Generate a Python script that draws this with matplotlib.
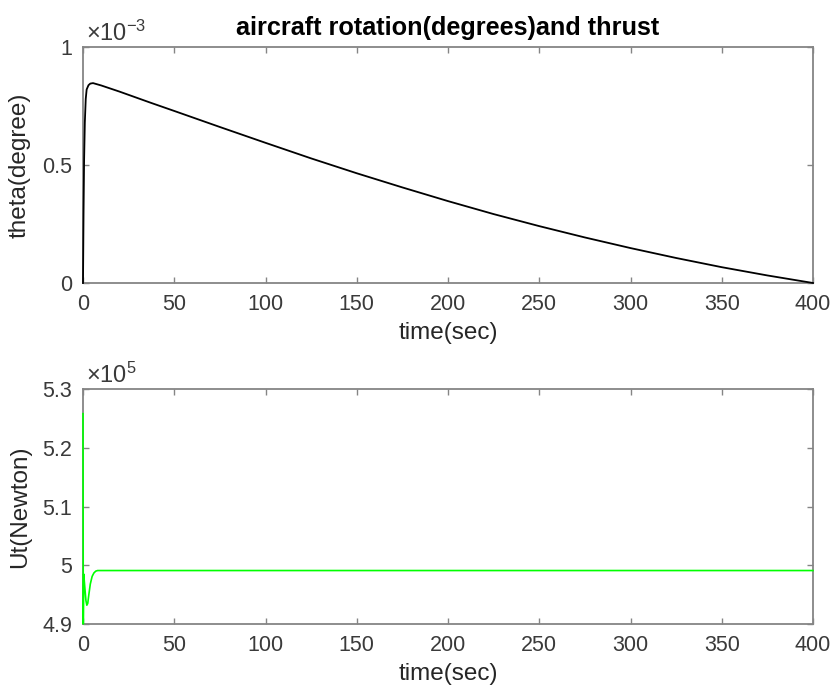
import numpy as np
import matplotlib
matplotlib.use('Agg')
import matplotlib.pyplot as plt
from matplotlib.ticker import FuncFormatter

plt.rcParams['font.family'] = ['Liberation Sans', 'DejaVu Sans']
plt.rcParams['mathtext.fontset'] = 'custom'
plt.rcParams['mathtext.rm'] = 'Liberation Sans'
plt.rcParams['mathtext.it'] = 'Liberation Sans'

# theta in units of 1e-3 degree
theta_t = [0, 0.3, 0.6, 1, 1.5, 2, 3, 4, 5.5, 10, 20, 37, 50, 75, 100, 125, 150,
           175, 200, 225, 250, 275, 300, 325, 350, 375, 400]
theta_v = [0, 0.30, 0.52, 0.68, 0.78, 0.82, 0.838, 0.845, 0.847, 0.837, 0.811, 0.764,
           0.729, 0.661, 0.594, 0.528, 0.465, 0.405, 0.347, 0.292, 0.241, 0.193,
           0.148, 0.106, 0.067, 0.032, 0.0]

# thrust in units of 1e5 N
ut_t = [0, 0.15, 0.4, 1.0, 1.6, 2.1, 2.6, 3.2, 4, 5, 6, 7, 8, 10, 400]
ut_v = [5.258, 4.90, 4.985, 4.962, 4.940, 4.932, 4.935, 4.950, 4.968, 4.981,
        4.987, 4.990, 4.991, 4.991, 4.991]

xticks = [0, 50, 100, 150, 200, 250, 300, 350, 400]
theta_yticks = [0, 0.5, 1]
ut_yticks = [4.9, 5.0, 5.1, 5.2, 5.3]

W, H = 836, 696
fig = plt.figure(figsize=(W / 100, H / 100), dpi=100)
ax1 = fig.add_axes([83 / W, 1 - 283 / H, 730 / W, 236 / H])
ax2 = fig.add_axes([83 / W, 1 - 624 / H, 730 / W, 235 / H])

spine_c = '#858585'
text_c = '#3a3a3a'
fmt = FuncFormatter(lambda v, p: '%g' % v)


def style(ax, yticks, ylim, ylabel):
    ax.set_xlim(0, 400)
    ax.set_ylim(*ylim)
    ax.set_xticks(xticks)
    ax.set_yticks(yticks)
    ax.yaxis.set_major_formatter(fmt)
    for s in ax.spines.values():
        s.set_color(spine_c)
        s.set_linewidth(1.3)
    ax.tick_params(direction='in', length=4, width=1, color=spine_c,
                   labelcolor=text_c, labelsize=15.5, top=True, right=True, pad=8)
    ax.set_xlabel('time(sec)', fontsize=17.5, color='#262626', labelpad=5)
    ax.set_ylabel(ylabel, fontsize=17.5, color='#262626', labelpad=8)


ax1.plot(theta_t, theta_v, color='black', lw=1.3, zorder=3, clip_on=False)
style(ax1, theta_yticks, (0, 1), 'theta(degree)')
ax1.set_title('aircraft rotation(degrees)and thrust', fontsize=18.2,
              fontweight='bold', pad=9)
ax1.annotate(r'$\times10^{-3}$', xy=(0, 1), xycoords='axes fraction',
             xytext=(2, 1), textcoords='offset points', fontsize=17,
             color=text_c, ha='left', va='bottom')

ax2.plot(ut_t, ut_v, color='#00ff00', lw=1.2, zorder=3, clip_on=False)
style(ax2, ut_yticks, (4.9, 5.3), 'Ut(Newton)')
ax2.annotate(r'$\times10^{5}$', xy=(0, 1), xycoords='axes fraction',
             xytext=(2, 1), textcoords='offset points', fontsize=17,
             color=text_c, ha='left', va='bottom')

fig.savefig('out.png', dpi=100)
